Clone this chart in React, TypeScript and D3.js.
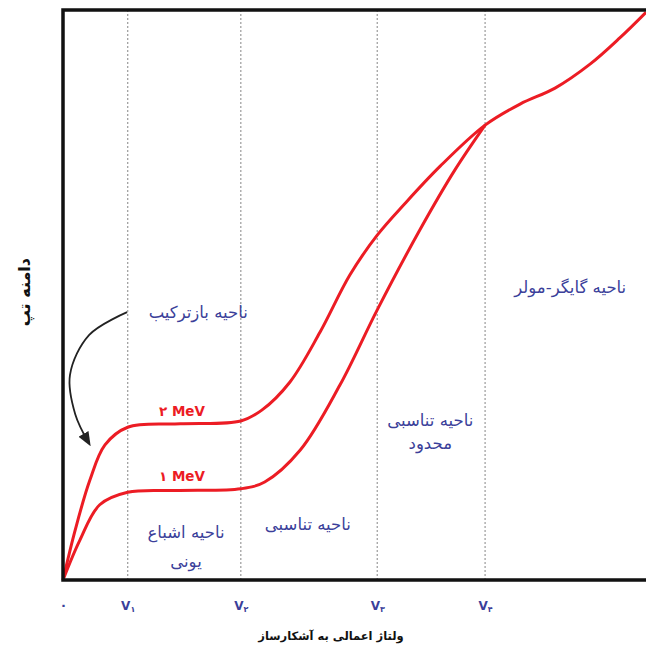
import React, { useEffect, useRef } from "react";
import * as d3 from "d3";

// voltage (x) and pulse amplitude (y), both 0..100 of the frame
const curve2MeV: [number, number][] = [
  [0, 0], [2.1, 8.8], [4.6, 17.5], [7.2, 23.7], [11.1, 26.8], [20.1, 27.4],
  [30.5, 27.9], [34.1, 29.8], [38.9, 34.7], [44.1, 43.5], [49.2, 53.5],
  [53.9, 60.5], [58.7, 66.1], [64.7, 72.6], [72.4, 79.8], [78.4, 83.5],
  [84.4, 86.3], [90.4, 90.5], [95.5, 95.1], [100, 99.6],
];
const curve1MeV: [number, number][] = [
  [0, 0], [2.9, 7.0], [6.3, 13.2], [11.1, 15.4], [20.0, 15.7], [30.5, 16.0],
  [34.6, 17.2], [40.7, 22.8], [47.5, 34.2], [53.9, 47.4], [61.2, 61.4],
  [67.2, 71.9], [72.4, 79.8],
];
const tickValues = [0, 11.1, 30.5, 53.9, 72.4];
const tickMain = ["۰", "V", "V", "V", "V"];
const tickSub = ["", "۱", "۲", "۳", "۴"];
const arrowPts: [number, number][] = [
  [11.0, 47.0], [4.5, 43.0], [1.2, 36.0], [2.1, 29.1], [4.5, 23.9],
];

const W = 646;
const H = 661;
const FONT = "DejaVu Sans";
const BLUE = "#3b3f9a";
const RED = "#ec1c24";

export default function App() {
  const ref = useRef<SVGSVGElement>(null);

  useEffect(() => {
    const svg = d3.select(ref.current);
    svg.selectAll("*").remove();

    const left = 63, right = 646, top = 10, bottom = 580;
    const x = d3.scaleLinear().domain([0, 100]).range([left, right]);
    const y = d3.scaleLinear().domain([0, 100]).range([bottom, top]);

    svg.append("defs").append("marker")
      .attr("id", "ah")
      .attr("viewBox", "0 0 10 10")
      .attr("refX", 8).attr("refY", 5)
      .attr("markerWidth", 8).attr("markerHeight", 8)
      .attr("orient", "auto")
      .append("path")
      .attr("d", "M0,1 L10,5 L0,9 Z")
      .attr("fill", "#222");

    // dotted region separators
    svg.selectAll(".sep")
      .data(tickValues.slice(1))
      .enter()
      .append("line")
      .attr("x1", d => x(d)).attr("x2", d => x(d))
      .attr("y1", top).attr("y2", bottom)
      .attr("stroke", "#9a9a9a")
      .attr("stroke-width", 1.2)
      .attr("stroke-dasharray", "2,2");

    const line = d3.line<[number, number]>()
      .x(d => x(d[0]))
      .y(d => y(d[1]))
      .curve(d3.curveCatmullRom.alpha(0.5));

    [curve1MeV, curve2MeV].forEach(c => {
      svg.append("path")
        .datum(c)
        .attr("d", line)
        .attr("fill", "none")
        .attr("stroke", RED)
        .attr("stroke-width", 3);
    });

    // frame
    svg.append("path")
      .attr("d", `M${right},${top} L${left},${top} L${left},${bottom} L${right},${bottom}`)
      .attr("fill", "none")
      .attr("stroke", "#111")
      .attr("stroke-width", 3.5);

    // x ticks
    const ax = svg.append("g")
      .attr("transform", `translate(0,${bottom})`)
      .call(d3.axisBottom(x).tickValues(tickValues).tickSize(0).tickPadding(21).tickFormat(() => ""));
    ax.select(".domain").remove();
    ax.selectAll<SVGTextElement, number>(".tick text")
      .each(function (_d, i) {
        const t = d3.select(this)
          .attr("font-family", FONT)
          .attr("font-weight", "bold")
          .attr("font-size", i === 0 ? 13 : 12)
          .attr("fill", BLUE);
        t.append("tspan").text(tickMain[i]);
        if (tickSub[i]) {
          t.append("tspan").attr("font-size", 8).attr("dy", 2).text(tickSub[i]);
        }
      });

    // energy labels
    const energy = [
      { t: "۲  MeV", at: [20.4, 28.8] },
      { t: "۱  MeV", at: [20.4, 17.4] },
    ];
    energy.forEach(e => {
      svg.append("text")
        .attr("x", x(e.at[0])).attr("y", y(e.at[1]))
        .attr("text-anchor", "middle")
        .attr("font-family", FONT)
        .attr("font-weight", "bold")
        .attr("font-size", 13.5)
        .attr("fill", RED)
        .text(e.t);
    });

    // region labels
    const regions = [
      { lines: ["ناحیه بازترکیب"], at: [23.2, 46.0], gap: 0 },
      { lines: ["ناحیه گایگر-مولر"], at: [87.0, 50.4], gap: 0 },
      { lines: ["ناحیه تناسبی", "محدود"], at: [63.0, 27.0], gap: 23 },
      { lines: ["ناحیه اشباع", "یونی"], at: [21.1, 7.4], gap: 29 },
      { lines: ["ناحیه تناسبی"], at: [42.0, 8.8], gap: 0 },
    ];
    regions.forEach(r => {
      const t = svg.append("text")
        .attr("x", x(r.at[0])).attr("y", y(r.at[1]))
        .attr("text-anchor", "middle")
        .attr("font-family", FONT)
        .attr("font-size", 16.5)
        .attr("fill", BLUE);
      r.lines.forEach((l, i) => {
        t.append("tspan")
          .attr("x", x(r.at[0]))
          .attr("dy", i === 0 ? 0 : r.gap)
          .text(l);
      });
    });

    // recombination arrow
    svg.append("path")
      .datum(arrowPts)
      .attr("d", d3.line<[number, number]>().x(d => x(d[0])).y(d => y(d[1])).curve(d3.curveCatmullRom))
      .attr("fill", "none")
      .attr("stroke", "#222")
      .attr("stroke-width", 1.8)
      .attr("marker-end", "url(#ah)");

    // axis titles
    svg.append("text")
      .attr("x", 331).attr("y", 640)
      .attr("text-anchor", "middle")
      .attr("font-family", FONT)
      .attr("font-weight", "bold")
      .attr("font-size", 11.5)
      .attr("fill", "#111")
      .text("ولتاژ اعمالی به آشکارساز");

    svg.append("text")
      .attr("transform", `translate(30,${y(50.5)}) rotate(-90)`)
      .attr("text-anchor", "middle")
      .attr("font-family", FONT)
      .attr("font-weight", "bold")
      .attr("font-size", 16)
      .attr("fill", "#111")
      .text("دامنه تپ");
  }, []);

  return (
    <svg
      ref={ref}
      width={W}
      height={H}
      style={{ position: "absolute", left: 0, top: 0, background: "#fff" }}
    />
  );
}
